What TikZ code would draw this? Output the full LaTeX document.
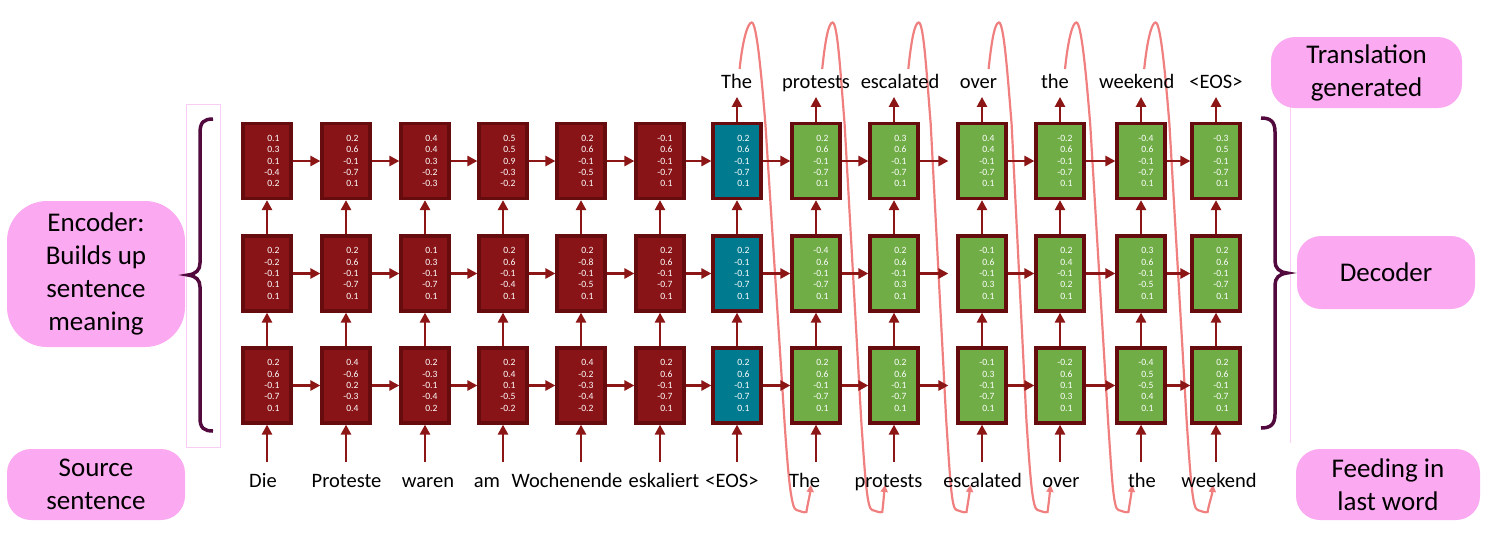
\documentclass[tikz,border=0pt]{standalone}
\usepackage{fontspec}
\setmainfont{Carlito}
\usetikzlibrary{arrows.meta}
\definecolor{encfill}{RGB}{137,20,23}
\definecolor{boxborder}{RGB}{102,12,14}
\definecolor{decfill}{RGB}{112,173,71}
\definecolor{eosfill}{RGB}{0,122,143}
\definecolor{arrowred}{RGB}{140,22,22}
\definecolor{labelpink}{RGB}{251,170,242}
\definecolor{bracepurple}{RGB}{82,10,62}
\definecolor{feedpink}{RGB}{240,128,128}
\definecolor{thinpink}{RGB}{250,205,245}
\tikzset{
  cell/.style={draw=boxborder, line width=3.2pt, minimum width=48pt, minimum height=75pt,
    text width=25pt, inner xsep=11.5pt, inner ysep=0pt, align=right, text=white,
    font=\fontsize{9.6}{11.3}\selectfont},
  enc/.style={cell, fill=encfill},
  dec/.style={cell, fill=decfill},
  eos/.style={cell, fill=eosfill},
  arr/.style={draw=arrowred, line width=2.8pt, -{Triangle[length=10pt,width=10pt]}},
  gaparr/.style={arr, shorten >=8pt},
  word/.style={font=\fontsize{20.5}{24}\selectfont, anchor=base, inner sep=0pt},
  pinklabel/.style={fill=labelpink, rounded corners=24pt, align=center, inner sep=0pt,
    font=\fontsize{27}{33}\selectfont},
  feed/.style={draw=feedpink, line width=2.2pt, -{Triangle[length=7pt,width=7pt]}},
  bracepath/.style={draw=bracepurple, line width=3.5pt},
  guide/.style={draw=thinpink, line width=0.8pt},
}
\begin{document}
\begin{tikzpicture}[x=1pt,y=-1pt]
\useasboundingbox (0,0) rectangle (1490,547);

% faint guides
\draw[guide] (186,104) rectangle (220,447);
\draw[guide] (1290,100) -- (1290,443);

% side labels
\node[pinklabel, minimum width=178pt, minimum height=146pt, rounded corners=40pt] (encl) at (96,274) {Encoder:\\Builds up\\sentence\\meaning};
\node[pinklabel, minimum width=178pt, minimum height=71pt] (srcl) at (96,484.5) {Source\\sentence};
\node[pinklabel, minimum width=191pt, minimum height=71pt] (trl) at (1366.5,72.5) {Translation\\generated};
\node[pinklabel, minimum width=178pt, minimum height=73pt] (decl) at (1386,272.5) {Decoder};
\node[pinklabel, minimum width=184pt, minimum height=71pt] (feedl) at (1388,484.5) {Feeding in\\last word};

% braces
\draw[bracepath] (213,119) .. controls (204,119) and (200,122) .. (200,133) -- (200,263)
  .. controls (200,270) and (196,274) .. (188,275) .. controls (196,276) and (200,280) .. (200,287)
  -- (200,418) .. controls (200,428) and (204,431) .. (213,431);
\draw[bracepath] (1261,118) .. controls (1270,118) and (1275,121) .. (1275,132) -- (1275,261)
  .. controls (1275,268) and (1279,272) .. (1287,273) .. controls (1279,274) and (1275,278) .. (1275,285)
  -- (1275,414) .. controls (1275,425) and (1270,428) .. (1261,428);

% feedback curves (drawn behind the cells)
\foreach \sa/\pk/\md/\lw/\tr/\tp in {739.6/751.7/765.4/784.4/796.4/810.9,
    822.2/832.6/844.6/861.2/872.2/884.9, 908.3/918.7/930.7/946.2/956.5/970.3,
    988.6/998.9/1011.6/1026.4/1037.5/1050.6, 1065/1076.4/1090.2/1108/1118.4/1132.2,
    1144.2/1155.6/1169.4/1186.6/1197.6/1213.1}
  \draw[feed] (\sa,69) .. controls (\sa+3,40) and (\pk-4,22.5) .. (\pk,22.5)
    .. controls (\pk+5,22.5) and (\md-4,75) .. (\md,124) -- (\lw,420)
    .. controls (\lw+4,480) and (\tr-5,509) .. (\tr,510)
    .. controls (\tr+4,511) and (\tr+7,513) .. (\tr+10,512)
    .. controls (\tr+11,505) and (\tp-1,495) .. (\tp,485);

% top row
\node[enc] (a1) at (267,161) {0.1\\0.3\\0.1\\-0.4\\0.2};
\node[enc] (a2) at (346,161) {0.2\\0.6\\-0.1\\-0.7\\0.1};
\node[enc] (a3) at (425,161) {0.4\\0.4\\0.3\\-0.2\\-0.3};
\node[enc] (a4) at (503,161) {0.5\\0.5\\0.9\\-0.3\\-0.2};
\node[enc] (a5) at (581,161) {0.2\\0.6\\-0.1\\-0.5\\0.1};
\node[enc] (a6) at (660,161) {-0.1\\0.6\\-0.1\\-0.7\\0.1};
\node[eos] (a7) at (737,161) {0.2\\0.6\\-0.1\\-0.7\\0.1};
\node[dec] (a8) at (816,161) {0.2\\0.6\\-0.1\\-0.7\\0.1};
\node[dec] (a9) at (894,161) {0.3\\0.6\\-0.1\\-0.7\\0.1};
\node[dec] (a10) at (982,161) {0.4\\0.4\\-0.1\\-0.7\\0.1};
\node[dec] (a11) at (1060,161) {-0.2\\0.6\\-0.1\\-0.7\\0.1};
\node[dec] (a12) at (1141,161) {-0.4\\0.6\\-0.1\\-0.7\\0.1};
\node[dec] (a13) at (1216,161) {-0.3\\0.5\\-0.1\\-0.7\\0.1};

% middle row
\node[enc] (b1) at (267,273.5) {0.2\\-0.2\\-0.1\\0.1\\0.1};
\node[enc] (b2) at (346,273.5) {0.2\\0.6\\-0.1\\-0.7\\0.1};
\node[enc] (b3) at (425,273.5) {0.1\\0.3\\-0.1\\-0.7\\0.1};
\node[enc] (b4) at (503,273.5) {0.2\\0.6\\-0.1\\-0.4\\0.1};
\node[enc] (b5) at (581,273.5) {0.2\\-0.8\\-0.1\\-0.5\\0.1};
\node[enc] (b6) at (660,273.5) {0.2\\0.6\\-0.1\\-0.7\\0.1};
\node[eos] (b7) at (737,273.5) {0.2\\-0.1\\-0.1\\-0.7\\0.1};
\node[dec] (b8) at (816,273.5) {-0.4\\0.6\\-0.1\\-0.7\\0.1};
\node[dec] (b9) at (894,273.5) {0.2\\0.6\\-0.1\\0.3\\0.1};
\node[dec] (b10) at (982,273.5) {-0.1\\0.6\\-0.1\\0.3\\0.1};
\node[dec] (b11) at (1060,273.5) {0.2\\0.4\\-0.1\\0.2\\0.1};
\node[dec] (b12) at (1141,273.5) {0.3\\0.6\\-0.1\\-0.5\\0.1};
\node[dec] (b13) at (1216,273.5) {0.2\\0.6\\-0.1\\-0.7\\0.1};

% bottom row
\node[enc] (c1) at (267,385.5) {0.2\\0.6\\-0.1\\-0.7\\0.1};
\node[enc] (c2) at (346,385.5) {0.4\\-0.6\\0.2\\-0.3\\0.4};
\node[enc] (c3) at (425,385.5) {0.2\\-0.3\\-0.1\\-0.4\\0.2};
\node[enc] (c4) at (503,385.5) {0.2\\0.4\\0.1\\-0.5\\-0.2};
\node[enc] (c5) at (581,385.5) {0.4\\-0.2\\-0.3\\-0.4\\-0.2};
\node[enc] (c6) at (660,385.5) {0.2\\0.6\\-0.1\\-0.7\\0.1};
\node[eos] (c7) at (737,385.5) {0.2\\0.6\\-0.1\\-0.7\\0.1};
\node[dec] (c8) at (816,385.5) {0.2\\0.6\\-0.1\\-0.7\\0.1};
\node[dec] (c9) at (894,385.5) {0.2\\0.6\\-0.1\\-0.7\\0.1};
\node[dec] (c10) at (982,385.5) {-0.1\\0.3\\-0.1\\-0.7\\0.1};
\node[dec] (c11) at (1060,385.5) {-0.2\\0.6\\0.1\\0.3\\0.1};
\node[dec] (c12) at (1141,385.5) {-0.4\\0.5\\-0.5\\0.4\\0.1};
\node[dec] (c13) at (1216,385.5) {0.2\\0.6\\-0.1\\-0.7\\0.1};

% horizontal connectors
\foreach \r in {a,b,c}{
  \foreach \i/\j in {1/2,2/3,3/4,4/5,5/6,6/7,7/8,8/9,10/11,11/12,12/13}
    \draw[arr] (\r\i) -- (\r\j);
  \draw[gaparr] (\r9) -- (\r10);
}
% vertical connectors
\foreach \i in {1,...,13}{
  \draw[arr] (c\i) -- (b\i);
  \draw[arr] (b\i) -- (a\i);
  \draw[arr] ([yshift=-37pt]c\i.south) -- (c\i.south);
}
\foreach \i in {7,...,13}
  \draw[arr] (a\i.north) -- ([yshift=25pt]a\i.north);

% source / input words
\node[word] (w1) at (263,487) {Die};
\node[word] (w2) at (346.5,487) {Proteste};
\node[word] (w3) at (428,487) {waren};
\node[word] (w4) at (487,487) {am};
\node[word] (w5) at (567,487) {Wochenende};
\node[word] (w6) at (664,487) {eskaliert};
\node[word] (w7) at (732,487) {<EOS>};
\node[word] (w8) at (804.5,487) {The};
\node[word] (w9) at (888.5,487) {protests};
\node[word] (w10) at (982.5,487) {escalated};
\node[word] (w11) at (1061,487) {over};
\node[word] (w12) at (1142,487) {the};
\node[word] (w13) at (1219,487) {weekend};

% generated words
\node[word] (t7) at (736.5,88) {The};
\node[word] (t8) at (816,88) {protests};
\node[word] (t9) at (900,88) {escalated};
\node[word] (t10) at (978.5,88) {over};
\node[word] (t11) at (1055,88) {the};
\node[word] (t12) at (1136.7,88) {weekend};
\node[word] (t13) at (1216,88) {<EOS>};
\end{tikzpicture}
\end{document}
